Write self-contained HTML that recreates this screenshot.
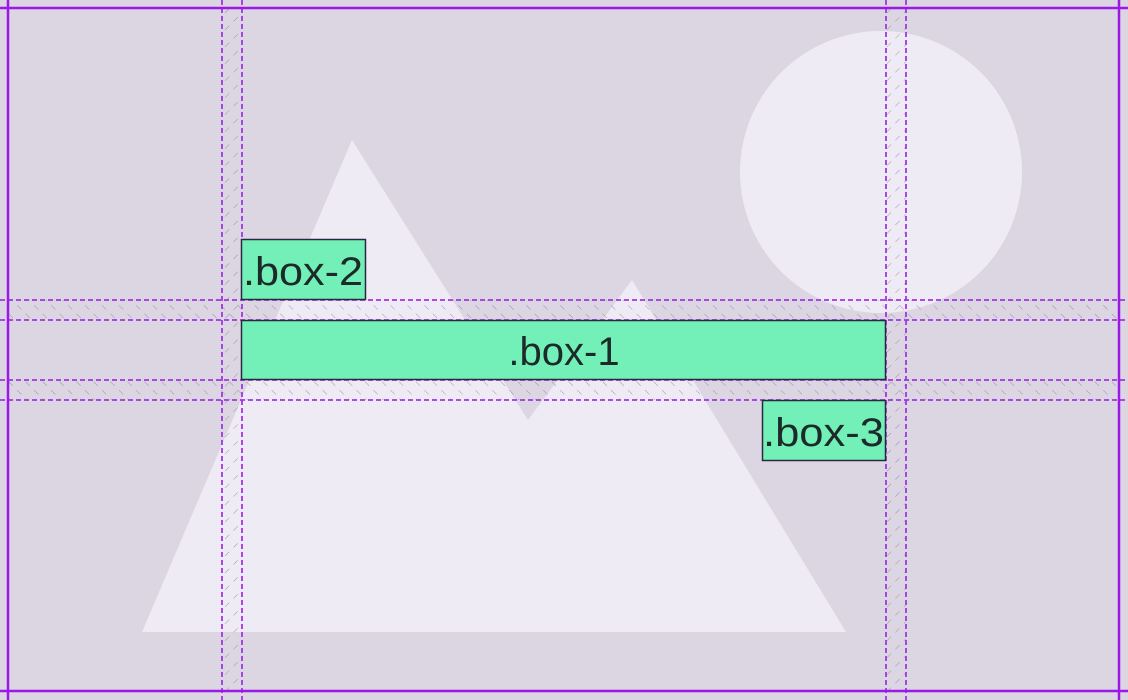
<!DOCTYPE html>
<html><head><meta charset="utf-8"><style>
html,body{margin:0;padding:0;background:#dcd5e2;}
svg{display:block}
text{font-family:"Liberation Sans",sans-serif;font-size:40px;fill:#1c2a2a}
</style></head><body>
<svg width="1128" height="700" viewBox="0 0 1128 700">
<defs>
<pattern id="hv" width="12" height="12" patternUnits="userSpaceOnUse" patternTransform="rotate(45)">
<line x1="0" y1="0" x2="0" y2="6" stroke="#8a8096" stroke-width="0.8"/></pattern>
<pattern id="hh" width="12" height="12" patternUnits="userSpaceOnUse" patternTransform="rotate(-45)">
<line x1="0" y1="0" x2="0" y2="6" stroke="#8a8096" stroke-width="0.8"/></pattern>
</defs>
<rect width="1128" height="700" fill="#dcd5e2"/>
<circle cx="881" cy="172" r="141" fill="#efebf4"/>
<polygon points="142,632 352,140 528,420 632,280 846,632" fill="#efebf4"/>
<g>
<rect x="222" y="8" width="20" height="683" fill="url(#hv)"/>
<rect x="886" y="8" width="20" height="683" fill="url(#hv)"/>
<rect x="8" y="300" width="1111" height="20" fill="url(#hh)"/>
<rect x="8" y="380" width="1111" height="20" fill="url(#hh)"/>
</g>
<g stroke="#a335e8" stroke-width="1.8" stroke-dasharray="5,3" fill="none">
<line x1="222" y1="0" x2="222" y2="700"/><line x1="242" y1="0" x2="242" y2="700"/>
<line x1="886" y1="0" x2="886" y2="700"/><line x1="906" y1="0" x2="906" y2="700"/>
<line x1="0" y1="300" x2="1128" y2="300"/><line x1="0" y1="320" x2="1128" y2="320"/>
<line x1="0" y1="380" x2="1128" y2="380"/><line x1="0" y1="400" x2="1128" y2="400"/>
</g>
<g stroke="#9b18e6" stroke-width="2.5" fill="none">
<line x1="0" y1="8" x2="1128" y2="8"/><line x1="0" y1="691" x2="1128" y2="691"/>
<line x1="8" y1="0" x2="8" y2="700"/><line x1="1119" y1="0" x2="1119" y2="700"/>
</g>
<g>
<rect x="241.5" y="239.5" width="124" height="60" fill="#72f0b8" stroke="#2a2840" stroke-width="1.5"/>
<text x="243" y="285" textLength="120" lengthAdjust="spacingAndGlyphs">.box-2</text></g>
<g>
<rect x="241.5" y="320.5" width="644" height="59" fill="#72f0b8" stroke="#2a2840" stroke-width="1.5"/>
<text x="564" y="365" text-anchor="middle">.box-1</text></g>
<g>
<rect x="762.5" y="400.5" width="123" height="60" fill="#72f0b8" stroke="#2a2840" stroke-width="1.5"/>
<text x="763" y="446" textLength="121" lengthAdjust="spacingAndGlyphs">.box-3</text></g>
</svg>
</body></html>
